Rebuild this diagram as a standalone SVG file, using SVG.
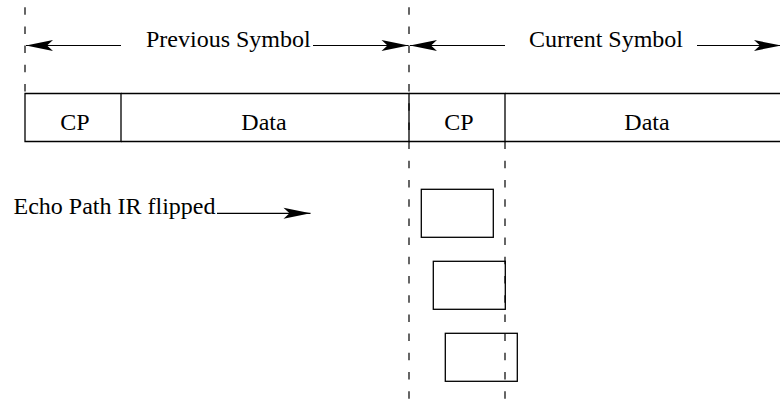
<svg xmlns="http://www.w3.org/2000/svg" width="780" height="401" viewBox="0 0 780 401">
  <style>
    text { font-family: "Liberation Serif", "Times New Roman", serif; font-size: 24px; fill: #000; }
    .mid { text-anchor: middle; }
    .solid { stroke: #000; stroke-width: 1.3; fill: none; }
    .dash { stroke: #000; stroke-width: 1.2; fill: none; stroke-dasharray: 7.5 11.7; }
    .arrow { stroke: #000; stroke-width: 1.2; fill: none; marker-end: url(#head); }
  </style>
  <defs>
    <marker id="head" markerUnits="userSpaceOnUse" viewBox="-28 -6 29 12" refX="0" refY="0" markerWidth="29" markerHeight="12" orient="auto" overflow="visible">
      <path d="M0,0 L-27,-5.5 L-21,0 L-27,5.5 Z" fill="#000"/>
    </marker>
  </defs>
  <rect width="780" height="401" fill="#fff"/>

  <!-- symbol boundary guides -->
  <g id="guides">
    <line class="dash" x1="25" y1="7.2" x2="25" y2="93.5"/>
    <line class="dash" x1="409" y1="7.2" x2="409" y2="401"/>
    <line class="dash" x1="505" y1="141.6" x2="505" y2="401"/>
  </g>

  <!-- symbol frame: CP | Data | CP | Data -->
  <g id="frame">
    <g id="cp-prev">
      <path class="solid" d="M25,93.5 H121 V141.5 H25 Z"/>
      <text class="mid" x="75" y="130">CP</text>
    </g>
    <g id="data-prev">
      <path class="solid" d="M121,93.5 H409 V141.5 H121"/>
      <text class="mid" x="264" y="130">Data</text>
    </g>
    <g id="cp-cur">
      <path class="solid" d="M409,93.5 H505 V141.5 H409"/>
      <text class="mid" x="459" y="130">CP</text>
    </g>
    <g id="data-cur">
      <path class="solid" d="M505,93.5 H780 M505,141.5 H780"/>
      <text class="mid" x="647" y="130">Data</text>
    </g>
  </g>

  <!-- labels -->
  <g id="label-prev"><text x="146" y="46.5">Previous Symbol</text></g>
  <g id="label-cur"><text x="529" y="46.5">Current Symbol</text></g>
  <g id="label-echo"><text x="13.5" y="214">Echo Path IR flipped</text></g>

  <!-- shifted echo path impulse responses -->
  <g id="ir-1"><rect class="solid" x="421.3" y="189.3" width="72" height="48"/></g>
  <g id="ir-2"><rect class="solid" x="433.3" y="261.3" width="72" height="48"/></g>
  <g id="ir-3"><rect class="solid" x="445.3" y="333.3" width="72" height="48"/></g>

  <!-- span arrows -->
  <g id="connectors">
    <line class="arrow" x1="121" y1="45.5" x2="26" y2="45.5"/>
    <line class="arrow" x1="313" y1="45.5" x2="408.5" y2="45.5"/>
    <line class="arrow" x1="505" y1="45.5" x2="410" y2="45.5"/>
    <line class="arrow" x1="697" y1="45.5" x2="781" y2="45.5"/>
    <line class="arrow" x1="217" y1="213.3" x2="310.5" y2="213.3"/>
  </g>
</svg>
